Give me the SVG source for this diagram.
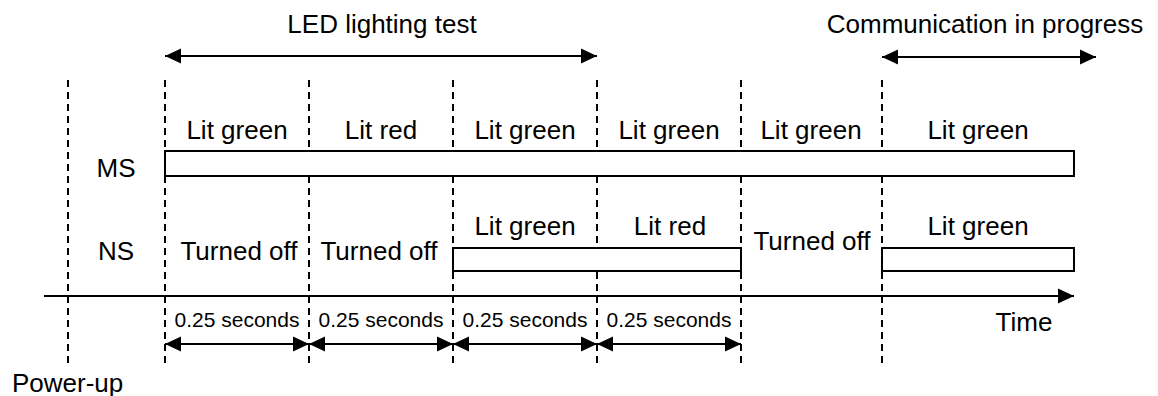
<svg xmlns="http://www.w3.org/2000/svg" width="1158" height="396" viewBox="0 0 1158 396">
  <defs>
    <marker id="ah" markerUnits="userSpaceOnUse" markerWidth="16" markerHeight="16" viewBox="0 0 16 16" refX="16" refY="8" orient="auto-start-reverse">
      <path d="M0,0.5 L16,8 L0,15.5 Z" fill="#000"/>
    </marker>
  </defs>
  <style>
    text { font-family: "Liberation Sans", Arial, sans-serif; fill: #000; }
    .t { font-size: 26px; }
    .s { font-size: 21px; }
    .c { text-anchor: middle; }
    .dash { stroke: #000; stroke-width: 2; stroke-dasharray: 7 5; fill: none; }
    .box { stroke: #000; stroke-width: 2; fill: #fff; }
    .arr { stroke: #000; stroke-width: 2; fill: none; marker-start: url(#ah); marker-end: url(#ah); }
  </style>
  <rect width="1158" height="396" fill="#fff"/>

  <g id="gridlines">
    <line class="dash" x1="68" y1="80" x2="68" y2="367"/>
    <line class="dash" x1="165" y1="80" x2="165" y2="367"/>
    <line class="dash" x1="309" y1="80" x2="309" y2="367"/>
    <line class="dash" x1="453" y1="80" x2="453" y2="367"/>
    <line class="dash" x1="597" y1="80" x2="597" y2="367"/>
    <line class="dash" x1="741" y1="80" x2="741" y2="367"/>
    <line class="dash" x1="882" y1="80" x2="882" y2="367"/>
  </g>

  <g id="ms-bar">
    <rect class="box" x="165" y="151" width="909" height="25"/>
  </g>
  <g id="ns-bar-1">
    <rect class="box" x="453" y="248" width="288" height="23"/>
  </g>
  <g id="ns-bar-2">
    <rect class="box" x="882" y="248" width="192" height="23"/>
  </g>

  <g id="connectors">
    <line class="arr" x1="165" y1="56" x2="597" y2="56"/>
    <line class="arr" x1="882" y1="57" x2="1096" y2="57"/>
    <line stroke="#000" stroke-width="2" x1="44" y1="296" x2="1074" y2="296" marker-end="url(#ah)"/>
    <line class="arr" x1="165" y1="344" x2="309" y2="344"/>
    <line class="arr" x1="309" y1="344" x2="453" y2="344"/>
    <line class="arr" x1="453" y1="344" x2="597" y2="344"/>
    <line class="arr" x1="597" y1="344" x2="741" y2="344"/>
  </g>

  <g id="labels-top">
    <text class="t c" x="382" y="33">LED lighting test</text>
    <text class="t c" x="985" y="33">Communication in progress</text>
  </g>

  <g id="ms-row">
    <text class="t c" x="116" y="177">MS</text>
    <text class="t c" x="237" y="139">Lit green</text>
    <text class="t c" x="381" y="139">Lit red</text>
    <text class="t c" x="525" y="139">Lit green</text>
    <text class="t c" x="669" y="139">Lit green</text>
    <text class="t c" x="811" y="139">Lit green</text>
    <text class="t c" x="978" y="139">Lit green</text>
  </g>

  <g id="ns-row">
    <text class="t c" x="116" y="260">NS</text>
    <text class="t c" x="239" y="260">Turned off</text>
    <text class="t c" x="379" y="260">Turned off</text>
    <text class="t c" x="525" y="235">Lit green</text>
    <text class="t c" x="670" y="235">Lit red</text>
    <text class="t c" x="812" y="250">Turned off</text>
    <text class="t c" x="978" y="235">Lit green</text>
  </g>

  <g id="durations">
    <text class="s c" x="237" y="327">0.25 seconds</text>
    <text class="s c" x="381" y="327">0.25 seconds</text>
    <text class="s c" x="525" y="327">0.25 seconds</text>
    <text class="s c" x="669" y="327">0.25 seconds</text>
  </g>

  <g id="misc-labels">
    <text class="t c" x="1024" y="331">Time</text>
    <text class="t" x="12" y="392">Power-up</text>
  </g>
</svg>
